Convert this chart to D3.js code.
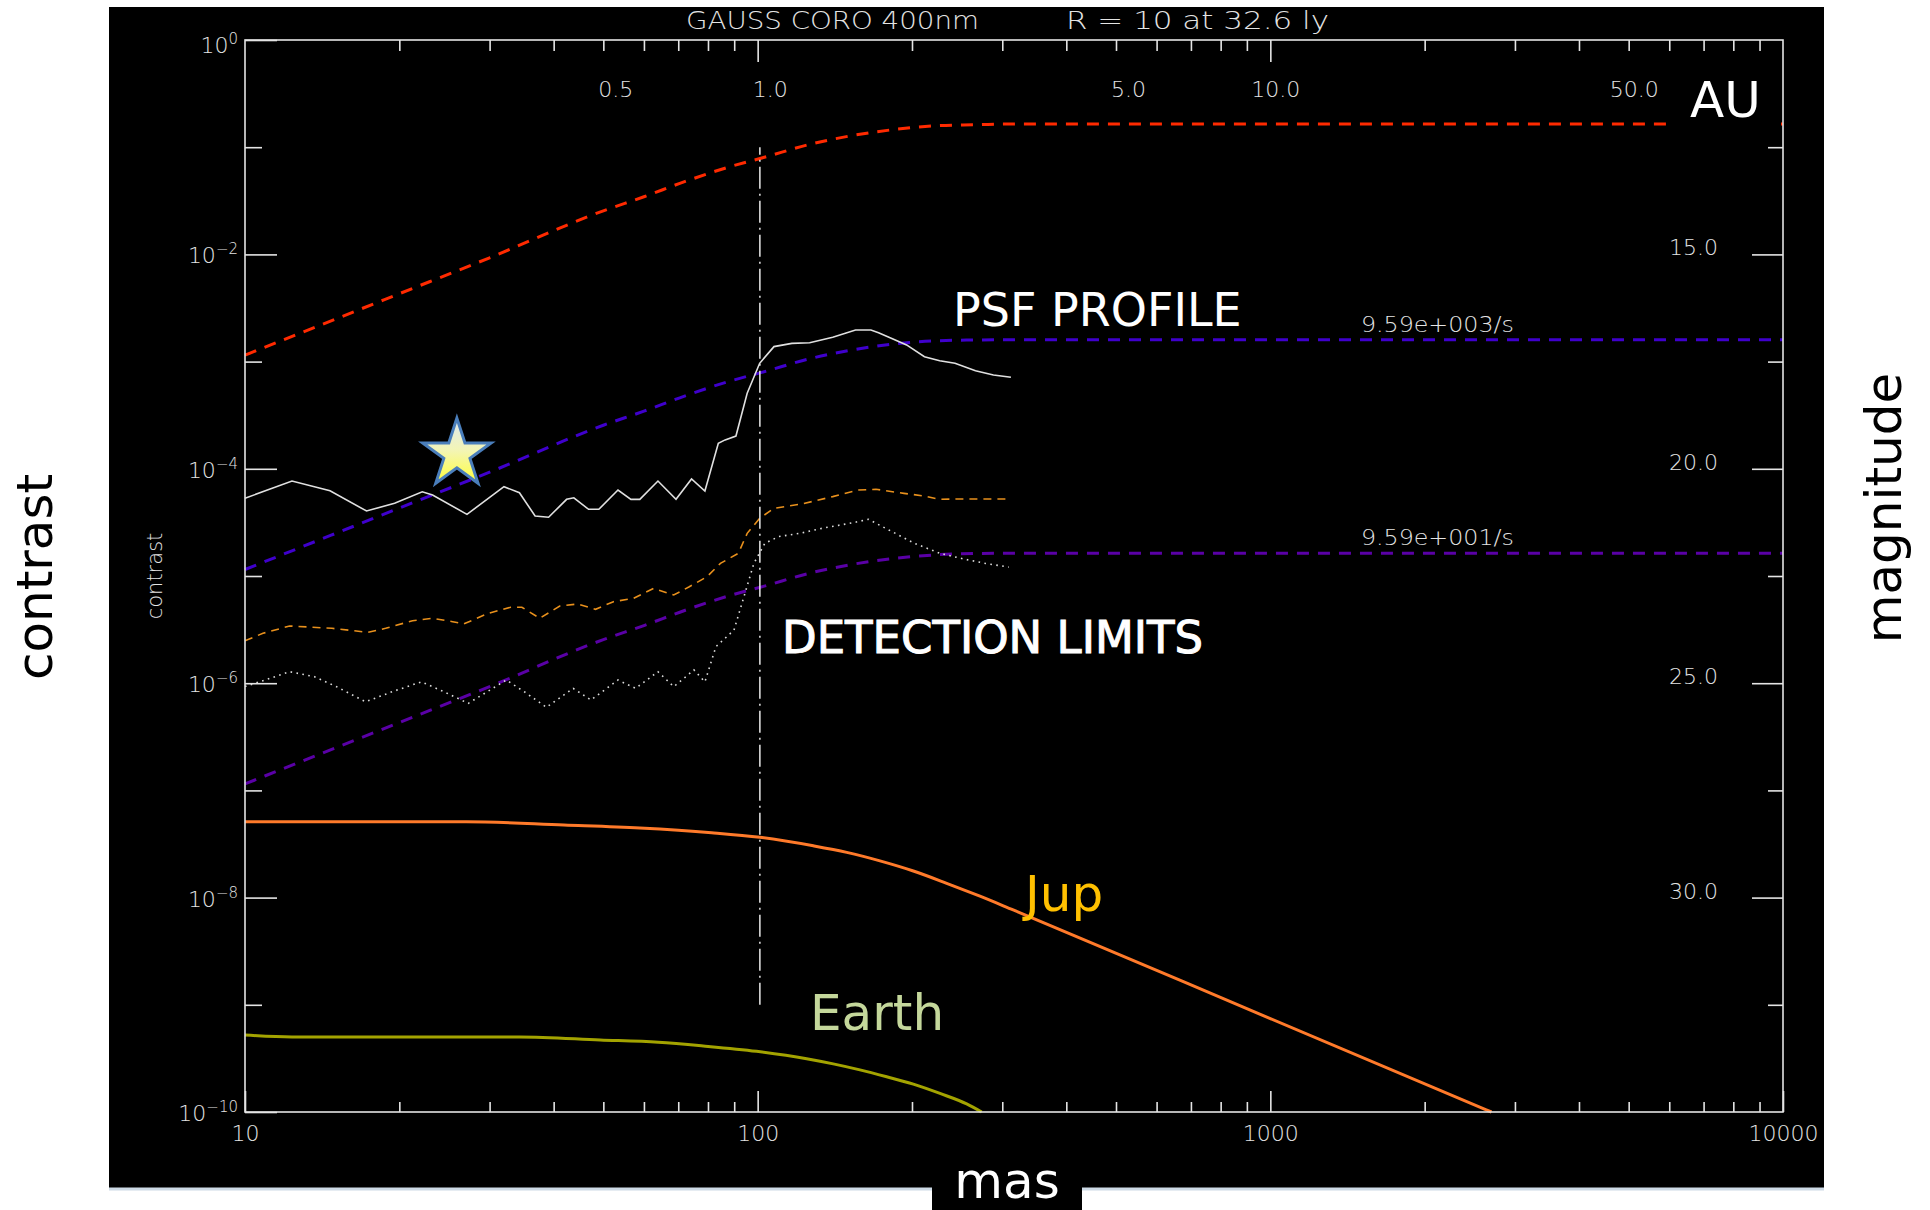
<!DOCTYPE html>
<html>
<head>
<meta charset="utf-8">
<script src="https://cdn.jsdelivr.net/npm/d3@7"></script>
<style>
  body { margin: 0; background: #fff; }
</style>
</head>
<body>
<div id="chart"></div>
<script>
// separations in mas, contrasts
var psfMas = [10, 12.35, 14.65, 17.26, 19.58, 22.17, 23.22, 27.1, 32.0, 34.3, 36.8, 39.1, 42.4, 43.8, 46.8, 49.0, 53.4, 56.6, 58.9, 63.9, 69.3, 74.3, 78.9, 83.8, 86.4, 90.7, 95.4, 100.9, 107.6, 116.6, 126.3, 140.1, 155.2, 166.3, 172.1, 182.2, 195.2, 211.5, 226.5, 242.6, 266, 288.3, 311.9];
var psfContrast = [5.31e-5, 7.69e-5, 6.25e-5, 4.04e-5, 4.77e-5, 6.11e-5, 5.70e-5, 3.76e-5, 6.81e-5, 5.98e-5, 3.63e-5, 3.53e-5, 5.19e-5, 5.37e-5, 4.19e-5, 4.19e-5, 6.34e-5, 5.19e-5, 5.19e-5, 7.69e-5, 5.19e-5, 8.03e-5, 6.21e-5, 1.73e-4, 1.86e-4, 2.02e-4, 5.06e-4, 9.64e-4, 1.38e-3, 1.48e-3, 1.50e-3, 1.69e-3, 1.97e-3, 1.97e-3, 1.86e-3, 1.65e-3, 1.43e-3, 1.11e-3, 1.02e-3, 9.64e-4, 8.22e-4, 7.50e-4, 7.14e-4];

// orange dashed detection limit
var detMas = [10, 10.84, 12.22, 14.78, 17.38, 18.81, 21.22, 23.22, 25.42, 26.72, 29.84, 32.98, 34.68, 37.58, 41.11, 44.56, 48.27, 52.31, 57.26, 62.66, 68.6, 73.55, 79.64, 84.6, 91.7, 95.4, 100.9, 107.6, 122, 140.1, 156.9, 170.1, 192.9, 211.5, 226.5, 248.1, 308.8];
var detContrast = [2.49e-6, 2.92e-6, 3.42e-6, 3.25e-6, 2.98e-6, 3.25e-6, 3.83e-6, 4.03e-6, 3.75e-6, 3.57e-6, 4.49e-6, 5.11e-6, 5.11e-6, 4.03e-6, 5.25e-6, 5.48e-6, 4.89e-6, 5.76e-6, 6.19e-6, 7.67e-6, 6.65e-6, 7.94e-6, 9.84e-6, 1.31e-5, 1.63e-5, 2.50e-5, 3.45e-5, 4.28e-5, 4.70e-5, 5.50e-5, 6.34e-5, 6.44e-5, 5.90e-5, 5.57e-5, 5.19e-5, 5.23e-5, 5.23e-5];

// dotted detection limit
var dotMas = [10, 10.94, 12.22, 13.66, 15.09, 17.19, 19.39, 22.08, 24.42, 27.26, 32.34, 35.04, 38.72, 43.66, 47.3, 53.4, 57.8, 63.9, 68.6, 75.1, 78.9, 82.9, 89.9, 93.6, 98.3, 103.3, 109.9, 120.9, 133.7, 153.5, 164.4, 180.2, 202.1, 226.5, 254.1, 278.5, 308.8];
var dotContrast = [9.3e-7, 1.07e-6, 1.28e-6, 1.15e-6, 9.27e-7, 6.71e-7, 8.34e-7, 1.03e-6, 8.34e-7, 6.49e-7, 1.07e-6, 8.34e-7, 5.96e-7, 8.95e-7, 6.97e-7, 1.07e-6, 8.95e-7, 1.28e-6, 9.27e-7, 1.33e-6, 1.03e-6, 2.19e-6, 3.13e-6, 5.97e-6, 1.31e-5, 2.02e-5, 2.33e-5, 2.50e-5, 2.79e-5, 3.14e-5, 3.38e-5, 2.69e-5, 2.02e-5, 1.63e-5, 1.43e-5, 1.31e-5, 1.21e-5];

// count-rate curves (red, 9.59e+003/s, 9.59e+001/s)
var rateMas = [10, 20, 30, 50, 60, 72, 87, 104, 125, 151, 182, 220, 265, 320, 10000];
var redContrast = [1.15e-3, 4.3e-3, 9.3e-3, 2.55e-2, 3.45e-2, 4.77e-2, 6.44e-2, 8.15e-2, 0.105, 0.127, 0.145, 0.158, 0.162, 0.165, 0.165];
var blueContrast = [1.15e-5, 4.3e-5, 9.3e-5, 2.55e-4, 3.45e-4, 4.77e-4, 6.44e-4, 8.15e-4, 1.05e-3, 1.27e-3, 1.45e-3, 1.56e-3, 1.59e-3, 1.60e-3, 1.60e-3];
var purpleContrast = [1.15e-7, 4.3e-7, 9.3e-7, 2.55e-6, 3.45e-6, 4.77e-6, 6.44e-6, 8.15e-6, 1.05e-5, 1.27e-5, 1.45e-5, 1.57e-5, 1.62e-5, 1.63e-5, 1.63e-5];
var rateLabels = ["9.59e+003/s", "9.59e+001/s"];

// planets
var jupMas = [10, 27, 41.9, 58.9, 81.3, 101, 128.4, 149.2, 173.2, 201.2, 233.7, 271.4, 315.1, 1000, 2700];
var jupContrast = [5.11e-8, 5.1e-8, 4.75e-8, 4.46e-8, 4.03e-8, 3.65e-8, 3.04e-8, 2.64e-8, 2.20e-8, 1.77e-8, 1.36e-8, 1.03e-8, 7.67e-9, 7.43e-10, 1.0e-10];
var earthMas = [10, 12.35, 34.3, 49.3, 64.0, 78.3, 99.5, 124.6, 140.4, 158.3, 178.5, 201.2, 226.8, 255.7, 273.5];
var earthContrast = [5.23e-10, 5.01e-10, 5.01e-10, 4.70e-10, 4.47e-10, 4.13e-10, 3.68e-10, 3.14e-10, 2.81e-10, 2.47e-10, 2.13e-10, 1.82e-10, 1.49e-10, 1.19e-10, 1.0e-10];

// inner working angle marker and the star
var iwaMas = 101;
var iwaContrast = [1e-9, 1e-1];
var starPoint = [25.9, 1.37e-4];

// ticks
var xMajor = [10, 100, 1000, 10000];
var yMajorExp = [0, -2, -4, -6, -8, -10];
var yMinorExp = [-1, -3, -5, -7, -9];
var auMajor = [1, 10];
var auLabels = [0.5, 1, 5, 10, 50];
var magTicks = [15, 20, 25, 30];
var magMinor = [12.5, 17.5, 22.5, 27.5, 32.5];

var svgWidth = 1930;
var svgHeight = 1210;
var margin = {top: 40, right: 147, bottom: 98, left: 245};
var chartWidth = svgWidth - margin.left - margin.right;
var chartHeight = svgHeight - margin.top - margin.bottom;

var idlFont = "'DejaVu Sans', sans-serif";
var bigFont = "'DejaVu Sans', sans-serif";
var axisColor = "#e4e4e4";

var svg = d3.select("#chart")
  .append("svg")
  .attr("width", svgWidth)
  .attr("height", svgHeight);

// black IDL window
svg.append("rect")
  .attr("x", 109).attr("y", 7)
  .attr("width", 1715).attr("height", 1181)
  .attr("fill", "#000");
svg.append("line")
  .attr("x1", 109).attr("x2", 1824)
  .attr("y1", 1189).attr("y2", 1189)
  .attr("stroke", "#cddae6").attr("stroke-width", 3);

var chartGroup = svg.append("g")
  .attr("transform", `translate(${margin.left}, ${margin.top})`);

var x = d3.scaleLog().domain([10, 10000]).range([0, chartWidth]);
var y = d3.scaleLog().domain([1e-10, 1]).range([chartHeight, 0]);
var xAU = d3.scaleLog().domain([0.1, 100]).range([0, chartWidth]);
var yMag = d3.scaleLinear().domain([10, 35]).range([0, chartHeight]);

var line = d3.line()
  .x(d => x(d[0]))
  .y(d => y(d[1]));

function drawSeries(mas, contrast, color, width, dash, curve) {
  var l = line.curve(curve || d3.curveLinear);
  chartGroup.append("path")
    .datum(d3.zip(mas, contrast))
    .attr("d", l)
    .attr("fill", "none")
    .attr("stroke", color)
    .attr("stroke-width", width)
    .attr("stroke-dasharray", dash);
}

// count-rate curves
drawSeries(rateMas, redContrast, "#ff2a00", 3, "12,9", d3.curveMonotoneX);
drawSeries(rateMas, blueContrast, "#3f00cc", 3, "12,9", d3.curveMonotoneX);
drawSeries(rateMas, purpleContrast, "#5a00a6", 3, "12,9", d3.curveMonotoneX);

// planets
drawSeries(jupMas, jupContrast, "#ff7a2a", 3, null, d3.curveMonotoneX);
drawSeries(earthMas, earthContrast, "#a3a300", 3, null, d3.curveMonotoneX);

// detection limits and psf
drawSeries(detMas, detContrast, "#e8901c", 1.6, "8,6");
drawSeries(dotMas, dotContrast, "#dcdcdc", 1.6, "1.6,4.4");
drawSeries(psfMas, psfContrast, "#e0e0e0", 1.6, null);

// vertical dash-dot line
chartGroup.append("line")
  .attr("x1", x(iwaMas)).attr("x2", x(iwaMas))
  .attr("y1", y(iwaContrast[0])).attr("y2", y(iwaContrast[1]))
  .attr("stroke", "#e8e8e8").attr("stroke-width", 1.5)
  .attr("stroke-dasharray", "22,5,2,5");

// rate labels sit just above the flat part of each curve
chartGroup.selectAll(".ratelab")
  .data(rateLabels)
  .enter()
  .append("text")
  .attr("x", x(1502))
  .attr("y", (d, i) => y(i === 0 ? blueContrast[14] : purpleContrast[14]) - 8)
  .attr("font-family", idlFont).attr("font-weight", 200)
  .attr("font-size", 22).attr("fill", axisColor)
  .attr("textLength", 153).attr("lengthAdjust", "spacingAndGlyphs")
  .text(d => d);

// star
var defs = svg.append("defs");
var grad = defs.append("linearGradient").attr("id", "starFill")
  .attr("x1", 0).attr("y1", 0).attr("x2", 0).attr("y2", 1);
grad.append("stop").attr("offset", "0%").attr("stop-color", "#dfe9f2");
grad.append("stop").attr("offset", "50%").attr("stop-color", "#f3f5b4");
grad.append("stop").attr("offset", "100%").attr("stop-color", "#ffff3a");

chartGroup.append("path")
  .attr("d", d3.symbol(d3.symbolStar, 36 * 36 / 0.8908)())
  .attr("transform", `translate(${x(starPoint[0])}, ${y(starPoint[1])})`)
  .attr("fill", "url(#starFill)")
  .attr("stroke", "#4a7ebb")
  .attr("stroke-width", 3)
  .attr("stroke-linejoin", "miter");

// AU box hides the red line
chartGroup.append("rect")
  .attr("x", 1422).attr("y", 15).attr("width", 114).attr("height", 85)
  .attr("fill", "#000");

// axes
function idlAxis(g) {
  g.select(".domain").remove();
  g.attr("font-family", idlFont).attr("font-size", 22);
  g.selectAll(".tick line").attr("stroke", axisColor).attr("stroke-width", 1.6);
  g.selectAll(".tick text").attr("fill", axisColor).attr("font-weight", 200);
}

var xMinor = x.ticks().filter(d => xMajor.indexOf(d) < 0);
var auMinor = xAU.ticks().filter(d => [0.1, 1, 10, 100].indexOf(d) < 0);

chartGroup.append("g")
  .attr("transform", `translate(0, ${chartHeight})`)
  .call(d3.axisBottom(x).tickValues(xMinor).tickSize(-10).tickFormat(""))
  .call(idlAxis);
chartGroup.append("g")
  .attr("transform", `translate(0, ${chartHeight})`)
  .call(d3.axisBottom(x).tickValues(xMajor).tickSize(-21).tickPadding(13).tickFormat(d3.format("d")))
  .call(idlAxis);

chartGroup.append("g")
  .call(d3.axisTop(xAU).tickValues(auMinor).tickSize(-11).tickFormat(""))
  .call(idlAxis);
chartGroup.append("g")
  .call(d3.axisTop(xAU).tickValues(auMajor).tickSize(-22).tickFormat(""))
  .call(idlAxis);
chartGroup.selectAll(".aulab")
  .data(auLabels)
  .enter()
  .append("text")
  .attr("x", d => xAU(d) + 30)
  .attr("y", 57)
  .attr("text-anchor", "end")
  .attr("font-family", idlFont).attr("font-weight", 200)
  .attr("font-size", 22).attr("fill", axisColor)
  .text(d3.format(".1f"));

chartGroup.append("g")
  .call(d3.axisLeft(y).tickValues(yMinorExp.map(e => Math.pow(10, e))).tickSize(-17).tickFormat(""))
  .call(idlAxis);
chartGroup.append("g")
  .call(d3.axisLeft(y).tickValues(yMajorExp.map(e => Math.pow(10, e))).tickSize(-32).tickFormat(""))
  .call(idlAxis);
chartGroup.selectAll(".ylab")
  .data(yMajorExp)
  .enter()
  .append("text")
  .attr("x", -7)
  .attr("y", d => y(Math.pow(10, d)) + (d === 0 ? 13 : 9))
  .attr("text-anchor", "end")
  .attr("font-family", idlFont).attr("font-weight", 200)
  .attr("font-size", 22).attr("fill", axisColor)
  .each(function(d) {
    var t = d3.select(this);
    t.append("tspan").text("10");
    t.append("tspan").attr("dy", -9).attr("font-size", 15).text(d === 0 ? "0" : "\u2212" + (-d));
  });

chartGroup.append("g")
  .attr("transform", `translate(${chartWidth}, 0)`)
  .call(d3.axisRight(yMag).tickValues(magMinor).tickSize(-15).tickFormat(""))
  .call(idlAxis);
chartGroup.append("g")
  .attr("transform", `translate(${chartWidth}, 0)`)
  .call(d3.axisRight(yMag).tickValues(magTicks).tickSize(-31).tickFormat(""))
  .call(idlAxis);
chartGroup.selectAll(".maglab")
  .data(magTicks)
  .enter()
  .append("text")
  .attr("x", chartWidth - 65)
  .attr("y", d => yMag(d) + 1)
  .attr("text-anchor", "end")
  .attr("font-family", idlFont).attr("font-weight", 200)
  .attr("font-size", 22).attr("fill", axisColor)
  .text(d3.format(".1f"));

// frame
chartGroup.append("rect")
  .attr("width", chartWidth).attr("height", chartHeight)
  .attr("fill", "none").attr("stroke", axisColor).attr("stroke-width", 1.6);

// IDL title and small y title
svg.append("text").attr("x", 686).attr("y", 29)
  .attr("font-family", idlFont).attr("font-weight", 200).attr("font-size", 25)
  .attr("fill", axisColor).attr("textLength", 293).attr("lengthAdjust", "spacingAndGlyphs")
  .text("GAUSS CORO 400nm");
svg.append("text").attr("x", 1066).attr("y", 29)
  .attr("font-family", idlFont).attr("font-weight", 200).attr("font-size", 25)
  .attr("fill", axisColor).attr("textLength", 263).attr("lengthAdjust", "spacingAndGlyphs")
  .text("R = 10 at 32.6 ly");
svg.append("text")
  .attr("transform", "translate(162, 576) rotate(-90)")
  .attr("text-anchor", "middle")
  .attr("font-family", idlFont).attr("font-weight", 200).attr("font-size", 21)
  .attr("fill", axisColor)
  .text("contrast");

// annotations pasted on top
svg.append("text").attr("x", 953).attr("y", 326)
  .attr("font-family", bigFont).attr("font-size", 46).attr("fill", "#fff")
  .text("PSF PROFILE");
svg.append("text").attr("x", 782).attr("y", 653)
  .attr("font-family", bigFont).attr("font-size", 45).attr("fill", "#fff")
  .attr("stroke", "#fff").attr("stroke-width", 1)
  .text("DETECTION LIMITS");
svg.append("text").attr("x", 1025).attr("y", 911)
  .attr("font-family", bigFont).attr("font-size", 50).attr("fill", "#ffc000")
  .text("Jup");
svg.append("text").attr("x", 810).attr("y", 1030)
  .attr("font-family", bigFont).attr("font-size", 50).attr("fill", "#c4d79b")
  .text("Earth");
svg.append("text").attr("x", 1690).attr("y", 117)
  .attr("font-family", bigFont).attr("font-size", 50).attr("fill", "#fff")
  .text("AU");

// mas box
svg.append("rect").attr("x", 932).attr("y", 1160).attr("width", 150).attr("height", 50).attr("fill", "#000");
svg.append("text").attr("x", 1007).attr("y", 1198)
  .attr("text-anchor", "middle")
  .attr("font-family", bigFont).attr("font-size", 50).attr("fill", "#fff")
  .text("mas");

// outer titles
svg.append("text")
  .attr("transform", "translate(52, 577) rotate(-90)")
  .attr("text-anchor", "middle")
  .attr("font-family", bigFont).attr("font-size", 50).attr("fill", "#000")
  .text("contrast");
svg.append("text")
  .attr("transform", "translate(1901, 508) rotate(-90)")
  .attr("text-anchor", "middle")
  .attr("font-family", bigFont).attr("font-size", 50).attr("fill", "#000")
  .text("magnitude");
</script>
</body>
</html>
